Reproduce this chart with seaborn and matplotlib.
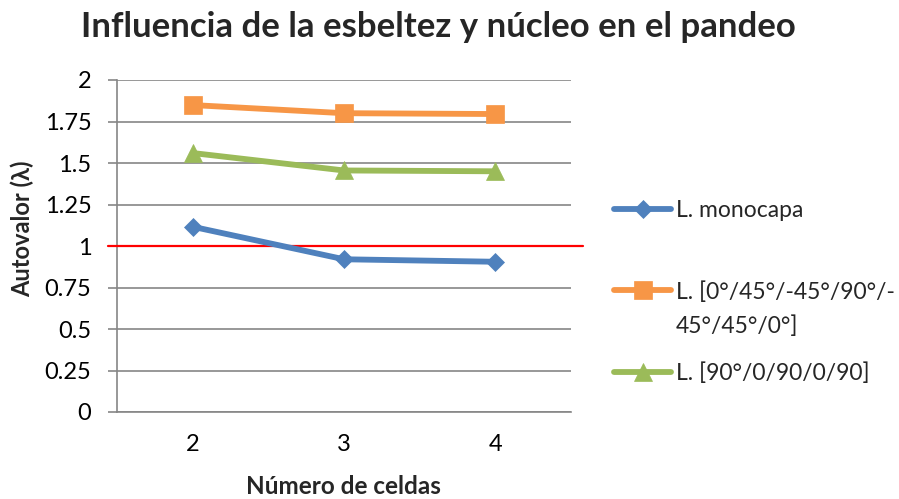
import matplotlib
matplotlib.use("Agg")
import matplotlib.pyplot as plt
import seaborn as sns
import pandas as pd

# Data
celdas = [2, 3, 4]
monocapa = [1.116, 0.92, 0.905]
lam_0_45 = [1.849, 1.80, 1.795]
lam_90_0 = [1.56, 1.455, 1.45]
umbral = 1.0

series_names = ["L. monocapa", "L. [0°/45°/-45°/90°/-", "L. [90°/0/90/0/90]"]
series_values = [monocapa, lam_0_45, lam_90_0]
continuation = "45°/45°/0°]"
y_ticks = [0, 0.25, 0.5, 0.75, 1, 1.25, 1.5, 1.75, 2]

colors = ["#4F81BD", "#F79646", "#9BBB59"]
markers = ["D", "s", "^"]
msizes = [9.5, 13.5, 13.5]

sns.set_style("white")
plt.rcParams["font.family"] = ["Lato", "DejaVu Sans"]

fig = plt.figure(figsize=(8.99, 4.99), dpi=100)
ax = fig.add_axes([117 / 899, 1 - 412 / 499, (571 - 117) / 899, (412 - 80) / 499])

grid_c = "#868686"
for name, vals, c, m, ms in zip(series_names, series_values, colors, markers, msizes):
    df = pd.DataFrame({"celdas": celdas, "valor": vals})
    sns.lineplot(data=df, x="celdas", y="valor", ax=ax, color=c, marker=m,
                 markersize=ms, markeredgewidth=0.5, markeredgecolor=c,
                 linewidth=4.2, label=name, zorder=4)

ax.axhline(umbral, xmin=-0.02, xmax=1.026, color="#FF0000", lw=1.6,
           clip_on=False, zorder=3)

ax.set_xlim(1.5, 4.5)
ax.set_ylim(0, 2)
ax.set_xticks(celdas)
ax.set_xticklabels([str(c) for c in celdas])
ax.set_yticks(y_ticks)
ax.set_yticklabels([f"{t:g}" for t in y_ticks])
ax.yaxis.grid(True, color=grid_c, lw=1.2)
ax.xaxis.grid(False)
ax.set_axisbelow(True)

for s in ["top", "right"]:
    ax.spines[s].set_visible(False)
for s in ["left", "bottom"]:
    ax.spines[s].set_color(grid_c)
    ax.spines[s].set_linewidth(1.2)

ax.tick_params(axis="y", which="both", left=True, length=6.5, width=1.2,
               color=grid_c, pad=12, labelsize=17, labelcolor="black")
ax.tick_params(axis="x", which="both", bottom=False, length=0, pad=16,
               labelsize=17, labelcolor="black")
ax.set_xlabel("")
ax.set_ylabel("")

fig.text(438 / 899, 1 - 27 / 499, "Influencia de la esbeltez y núcleo en el pandeo",
         ha="center", va="center", fontsize=25, fontweight="bold")
fig.text(22 / 899, 1 - 229 / 499, "Autovalor (λ)", rotation=90, ha="center",
         va="center", fontsize=17, fontweight="bold")
fig.text(343 / 899, 1 - 487 / 499, "Número de celdas", ha="center", va="center",
         fontsize=17.5, fontweight="bold")

handles, labels = ax.get_legend_handles_labels()
leg = ax.legend(handles, labels, loc="center left",
                bbox_to_anchor=(614 / 899, 1 - 292 / 499),
                bbox_transform=fig.transFigure, frameon=False, fontsize=16.5,
                handlelength=2.5, handletextpad=0.2, labelspacing=2.62,
                borderpad=0, borderaxespad=0)
ax.annotate(continuation, xy=(0, 0.5), xycoords=leg.texts[1],
            xytext=(0, -25), textcoords="offset points", ha="left",
            va="center", fontsize=16.5, zorder=10, annotation_clip=False)

fig.savefig("out.png", dpi=100)
